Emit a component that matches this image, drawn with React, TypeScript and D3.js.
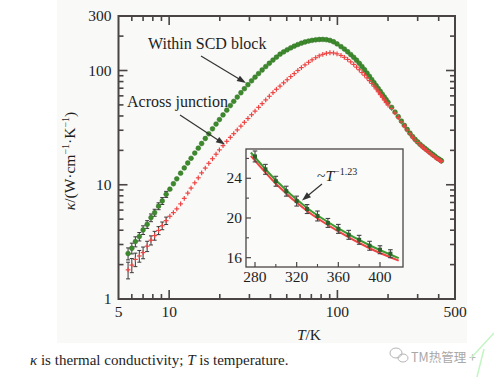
import React from 'react';
import * as d3 from 'd3';

// ---------- data ----------
const temperatureK = [
  5.7, 6.0, 6.3, 6.65, 7.0, 7.4, 7.8, 8.2, 8.65, 9.1, 9.6, 10.1,
  10.6, 11.1, 11.7, 12.3, 12.9, 13.5, 14.2, 14.9, 15.6, 16.4,
  17.2, 18.1, 19.0, 19.9, 20.9, 22.0, 23.1, 24.2, 25.4, 26.7,
  28.0, 29.4, 30.9, 32.4, 34.0, 35.7, 37.5, 39.4, 41.4, 43.4,
  45.6, 47.9, 50.3, 52.8, 55.4, 58.2, 61.1, 64.2, 67.4, 70.7,
  74.3, 78.0, 81.9, 86.0, 90.3, 94.8, 99.5,
  105, 110, 115, 120, 125, 130, 135, 140, 145, 150, 155, 160, 165, 170, 175, 180, 185, 190, 195, 200,
  210, 220, 230, 240, 250, 260, 270, 280, 290, 300, 310, 320, 330, 340, 350, 360, 370, 380, 390, 400, 410,
  415,
];

const kappaWithinSCD = [
  2.50, 2.78, 3.18, 3.52, 4.02, 4.50, 5.15, 5.70, 6.50, 7.22, 8.25, 9.15,
  10.2, 11.27, 12.62, 14.03, 15.5, 17.05, 18.94, 20.91, 22.96, 25.4,
  27.94, 30.9, 33.98, 37.2, 40.85, 45.0, 49.3, 53.7, 58.6, 63.9,
  69.3, 75.1, 81.3, 87.5, 94.1, 101.0, 108.2, 115.7, 123.4, 130.9,
  138.9, 145.5, 151.8, 157.8, 163.4, 168.8, 173.5, 177.6, 181.0, 183.6,
  185.6, 186.8, 187.0, 186.0, 183.5, 178.5, 171,
  162, 154, 146, 138, 130.5, 123, 115.5, 108.3, 101.5, 95, 89, 83.3, 78.2, 73.6, 69.4, 65.5, 61.9, 58.6, 55.5, 52.7,
  47.6, 43.3, 39.5, 36.1, 33.1, 30.5, 28.3, 26.4, 24.9, 23.7, 22.6, 21.7, 20.9, 20.2, 19.5, 18.9, 18.3, 17.8, 17.2, 16.8, 16.4,
  16.2,
];

const kappaAcrossJunction = [
  1.80, 1.98, 2.22, 2.38, 2.55, 2.90, 3.27, 3.59, 3.98, 4.38, 4.85, 5.30,
  5.7, 6.15, 6.8, 7.6, 8.45, 9.35, 10.4, 11.5, 12.7, 14.0,
  15.4, 16.9, 18.5, 20.2, 22.0, 24.0, 26.0, 28.0, 30.2, 32.6,
  35.2, 38.0, 41.0, 44.1, 47.6, 51.3, 55.3, 59.5, 64.0, 68.5,
  73.0, 78.0, 83.0, 88.5, 94.0, 100, 106, 112, 118, 124,
  129.5, 134.5, 138.5, 141.5, 143, 142.5, 140,
  135.5, 130.5, 125, 119, 113, 107, 101.5, 96, 91, 86.2, 81.6, 77.2, 73, 69, 65.2, 61.6, 58.3, 55.2, 52.4, 49.8,
  46.6, 42.5, 38.8, 35.5, 32.6, 30.1, 27.9, 26.0, 24.6, 23.4, 22.3, 21.4, 20.6, 19.9, 19.2, 18.6, 18.0, 17.5, 17.0, 16.6, 16.2,
  16.0,
];

// error bars for the lowest temperatures (absolute, W·cm⁻¹·K⁻¹)
const errWithinSCD = [0.3, 0.3, 0.32, 0.3, 0.35, 0.35, 0.4, 0.4, 0.45, 0.5, 0.5];
const errAcrossJunction = [0.3, 0.28, 0.3, 0.28, 0.3, 0.3, 0.3, 0.32, 0.32, 0.34, 0.36];

const xTickLabels = [5, 10, 100, 500];
const yTickLabels = [1, 10, 100, 300];

// inset
const insetT = [280, 290, 300, 310, 320, 330, 340, 350, 360, 370, 380, 390, 400, 410];
const insetKappa = [26.2, 24.9, 23.7, 22.7, 21.7, 20.9, 20.2, 19.5, 18.9, 18.3, 17.8, 17.2, 16.8, 16.4];
const insetErr = [0.55, 0.5, 0.5, 0.5, 0.5, 0.45, 0.5, 0.45, 0.45, 0.45, 0.45, 0.45, 0.4, 0.4];
const fitT = [276, 300, 330, 360, 390, 418];
const fitWithinSCD = [26.6, 23.8, 21.0, 18.95, 17.25, 15.95];
const fitAcrossJunction = [26.25, 23.45, 20.7, 18.65, 16.95, 15.7];
const insetXTicks = [280, 320, 360, 400];
const insetXMinor = [300, 340, 380];
const insetYTicks = [16, 20, 24];
const insetYMinor = [18, 22, 26];

const SERIF = '"Liberation Serif", "Times New Roman", Times, serif';
const GREEN = '#3c8a2c';
const RED = '#ee4444';
const AXIS = '#4a4444';
const TEXT = '#1e1e1e';

function Arrow({ x1, y1, x2, y2, color = '#333' }: { x1: number; y1: number; x2: number; y2: number; color?: string }) {
  const dx = x2 - x1, dy = y2 - y1;
  const len = Math.hypot(dx, dy);
  const ux = dx / len, uy = dy / len;
  const hl = 9, hw = 3.2;
  const bx = x2 - ux * hl, by = y2 - uy * hl;
  const pts = [
    [x2, y2],
    [bx - uy * hw, by + ux * hw],
    [bx + uy * hw, by - ux * hw],
  ];
  return (
    <g>
      <line x1={x1} y1={y1} x2={bx + ux * 2} y2={by + uy * 2} stroke={color} strokeWidth={1.2} />
      <polygon points={pts.map((p) => p.join(',')).join(' ')} fill={color} />
    </g>
  );
}

export default function App() {
  const W = 494, H = 377;
  const x = d3.scaleLog().domain([5, 500]).range([118.5, 455]);
  const y = d3.scaleLog().domain([1, 300]).range([299, 16]);
  const [x0, x1] = x.range();
  const [y0, y1] = y.range();

  const xAll = x.ticks();
  const yAll = y.ticks();
  const isMajor = (v: number) => Math.abs(Math.log10(v) - Math.round(Math.log10(v))) < 1e-9;

  // inset scales
  const ix = d3.scaleLinear().domain([271.36, 422.1]).range([246, 403]);
  const iy = d3.scaleLinear().domain([15.06, 26.95]).range([267, 149]);
  const [ix0, ix1] = ix.range();
  const [iy0, iy1] = iy.range();

  const fitLine = d3
    .line<number>()
    .x((_, i) => ix(fitT[i]))
    .y((d) => iy(d))
    .curve(d3.curveMonotoneX);

  const ptsW = temperatureK.map((t, i) => ({ t, k: kappaWithinSCD[i] }));
  const ptsA = temperatureK.map((t, i) => ({ t, k: kappaAcrossJunction[i] }));

  return (
    <svg
      width={W}
      height={H}
      viewBox={`0 0 ${W} ${H}`}
      style={{ position: 'absolute', left: 0, top: 0, background: '#ffffff' }}
      fontFamily={SERIF}
    >
      {/* figure background */}
      <rect x={57} y={0} width={410} height={343} fill="#f9f9f7" />

      {/* main frame */}
      <rect x={x0} y={y1} width={x1 - x0} height={y0 - y1} fill="none" stroke={AXIS} strokeWidth={2} />

      {/* x ticks (bottom & top, inward) */}
      {xAll.map((v) => {
        const px = x(v);
        const L = isMajor(v) ? 9 : 5;
        if (px <= x0 + 0.5 || px >= x1 - 0.5) return null;
        return (
          <g key={'xt' + v}>
            <line x1={px} x2={px} y1={y0} y2={y0 - L} stroke={AXIS} strokeWidth={1.6} />
            <line x1={px} x2={px} y1={y1} y2={y1 + L} stroke={AXIS} strokeWidth={1.6} />
          </g>
        );
      })}
      {/* y ticks (left & right, inward) */}
      {yAll.map((v) => {
        const py = y(v);
        const L = isMajor(v) ? 9 : 5;
        if (py >= y0 - 0.5 || py <= y1 + 0.5) return null;
        return (
          <g key={'yt' + v}>
            <line x1={x0} x2={x0 + L} y1={py} y2={py} stroke={AXIS} strokeWidth={1.6} />
            <line x1={x1} x2={x1 - L} y1={py} y2={py} stroke={AXIS} strokeWidth={1.6} />
          </g>
        );
      })}

      {/* tick labels */}
      {xTickLabels.map((v) => (
        <text key={'xl' + v} x={x(v)} y={317} textAnchor="middle" fontSize={15.5} fill={TEXT}>
          {v}
        </text>
      ))}
      {yTickLabels.map((v) => (
        <text key={'yl' + v} x={111.5} y={y(v) + 5.2} textAnchor="end" fontSize={15.5} fill={TEXT}>
          {v}
        </text>
      ))}

      {/* axis titles */}
      <text x={309} y={340} textAnchor="middle" fontSize={15.5} fill={TEXT}>
        <tspan fontStyle="italic">T</tspan>/K
      </text>
      <text
        transform="translate(75,161) rotate(-90)"
        textAnchor="middle"
        fontSize={15.5}
        fill={TEXT}
      >
        <tspan fontStyle="italic">κ</tspan>/(W·cm
        <tspan fontSize={10} dy={-6}>−1</tspan>
        <tspan dy={6}>·K</tspan>
        <tspan fontSize={10} dy={-6}>−1</tspan>
        <tspan dy={6}>)</tspan>
      </text>

      {/* error bars (low T) */}
      {errWithinSCD.map((e, i) => {
        const px = x(temperatureK[i]);
        const k = kappaWithinSCD[i];
        return (
          <g key={'ew' + i} stroke="#3a3a3a" strokeWidth={1}>
            <line x1={px} x2={px} y1={y(k + e)} y2={y(k - e)} />
            <line x1={px - 2} x2={px + 2} y1={y(k + e)} y2={y(k + e)} />
            <line x1={px - 2} x2={px + 2} y1={y(k - e)} y2={y(k - e)} />
          </g>
        );
      })}
      {errAcrossJunction.map((e, i) => {
        const px = x(temperatureK[i]);
        const k = kappaAcrossJunction[i];
        return (
          <g key={'ea' + i} stroke="#3a3a3a" strokeWidth={1}>
            <line x1={px} x2={px} y1={y(k + e)} y2={y(k - e)} />
            <line x1={px - 2} x2={px + 2} y1={y(k + e)} y2={y(k + e)} />
            <line x1={px - 2} x2={px + 2} y1={y(k - e)} y2={y(k - e)} />
          </g>
        );
      })}

      {/* within SCD block: green dots */}
      {ptsW.map((p, i) => (
        <circle key={'g' + i} cx={x(p.t)} cy={y(p.k)} r={2.4} fill={GREEN} stroke="#2f6f22" strokeWidth={0.5} />
      ))}
      {/* across junction: red crosses */}
      {ptsA.map((p, i) => {
        const px = x(p.t), py = y(p.k);
        return (
          <g key={'r' + i} stroke={RED} strokeWidth={1.2}>
            <line x1={px - 2.4} x2={px + 2.4} y1={py} y2={py} />
            <line x1={px} x2={px} y1={py - 2.4} y2={py + 2.4} />
          </g>
        );
      })}

      {/* annotations */}
      <text x={148} y={49} fontSize={16} fill={TEXT}>Within SCD block</text>
      <Arrow x1={201} y1={56} x2={246} y2={83} />
      <text x={127} y={107} fontSize={16} fill={TEXT}>Across junction</text>
      <Arrow x1={180} y1={115} x2={225} y2={144.5} />

      {/* ---------- inset ---------- */}
      <rect x={ix0} y={iy1} width={ix1 - ix0} height={iy0 - iy1} fill="#fbfbfa" stroke={AXIS} strokeWidth={1.3} />
      {insetYTicks.map((v) => (
        <g key={'iy' + v}>
          <line x1={ix0} x2={ix0 + 5} y1={iy(v)} y2={iy(v)} stroke={AXIS} strokeWidth={1.2} />
          <text x={242} y={iy(v) + 5.2} textAnchor="end" fontSize={15.5} fill={TEXT}>{v}</text>
        </g>
      ))}
      {insetYMinor.map((v) => (
        <line key={'iym' + v} x1={ix0} x2={ix0 + 3} y1={iy(v)} y2={iy(v)} stroke={AXIS} strokeWidth={1.1} />
      ))}
      {insetXTicks.map((v) => (
        <g key={'ix' + v}>
          <line x1={ix(v)} x2={ix(v)} y1={iy0} y2={iy0 - 5} stroke={AXIS} strokeWidth={1.2} />
          <text x={ix(v)} y={282} textAnchor="middle" fontSize={15.5} fill={TEXT}>{v}</text>
        </g>
      ))}
      {insetXMinor.map((v) => (
        <line key={'ixm' + v} x1={ix(v)} x2={ix(v)} y1={iy0} y2={iy0 - 3} stroke={AXIS} strokeWidth={1.1} />
      ))}

      <path d={fitLine(fitAcrossJunction) || ''} fill="none" stroke={RED} strokeWidth={2} />
      <path d={fitLine(fitWithinSCD) || ''} fill="none" stroke="#3f9a32" strokeWidth={2} />

      {insetT.map((t, i) => {
        const px = ix(t);
        const k = insetKappa[i];
        const e = insetErr[i];
        return (
          <g key={'ip' + i}>
            <g stroke="#444" strokeWidth={1.1}>
              <line x1={px} x2={px} y1={iy(k + e)} y2={iy(k - e)} />
              <line x1={px - 2.3} x2={px + 2.3} y1={iy(k + e)} y2={iy(k + e)} />
              <line x1={px - 2.3} x2={px + 2.3} y1={iy(k - e)} y2={iy(k - e)} />
            </g>
            <rect x={px - 2} y={iy(k) - 2} width={4} height={4} fill="#2f5f2a" />
          </g>
        );
      })}

      <text x={317} y={181} fontSize={15.5} fill={TEXT}>
        ~<tspan fontStyle="italic">T</tspan>
        <tspan fontSize={10} dy={-6}>−1.23</tspan>
      </text>
      <Arrow x1={322} y1={184} x2={302} y2={200.5} />

      {/* caption */}
      <text x={30} y={365} fontSize={15} fill={TEXT}>
        <tspan fontStyle="italic">κ</tspan> is thermal conductivity; <tspan fontStyle="italic">T</tspan> is temperature.
      </text>

      {/* watermark */}
      <g stroke="#b5b5b5" fill="none" strokeWidth={1}>
        <ellipse cx={396} cy={353} rx={6} ry={5} />
        <ellipse cx={403} cy={358} rx={5} ry={4} />
      </g>
      <text x={411} y={362} fontSize={12.5} fill="#a8a8a8" fontFamily='"Noto Sans CJK SC", "Noto Sans", sans-serif'>
        TM热管理 +
      </text>
      <g stroke="#c2f5c2" strokeWidth={1.5} fill="none">
        <polyline points="494,333 471,358" />
        <polyline points="477,377 484,349" />
      </g>
    </svg>
  );
}
